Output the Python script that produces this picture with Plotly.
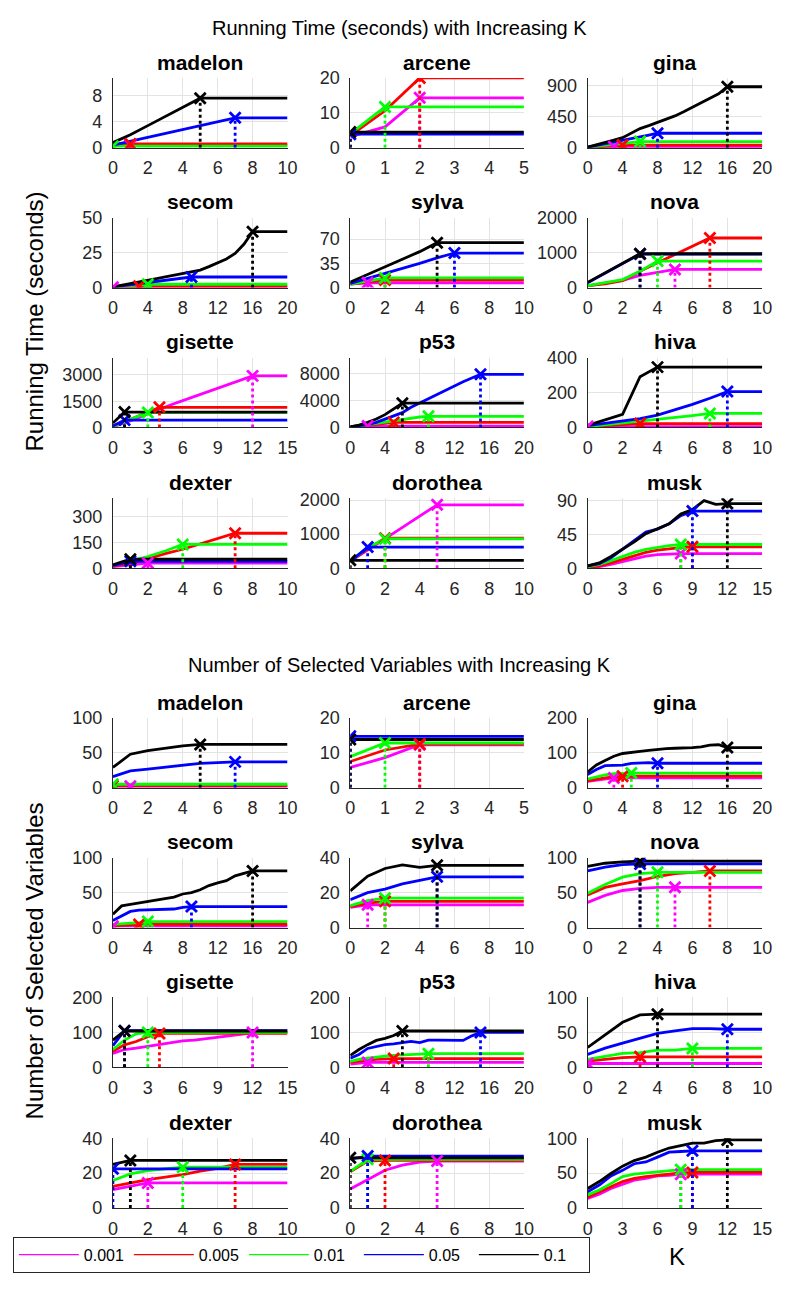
import plotly.graph_objects as go

W, H = 786, 1289

ALPHAS = ["0.001", "0.005", "0.01", "0.05", "0.1"]
COLORS = ["#ff00ff", "#ff0000", "#00ff00", "#0000ff", "#000000"]
DATASETS = ["madelon", "arcene", "gina", "secom", "sylva", "nova",
            "gisette", "p53", "hiva", "dexter", "dorothea", "musk"]
K_MAX = [10, 5, 20, 20, 10, 10, 15, 20, 10, 10, 10, 15]
K_STEP = [2, 1, 4, 4, 2, 2, 3, 4, 2, 2, 2, 3]

TIME_YMAX = [10.7, 20, 1007, 50, 101, 2000, 4000, 10400, 400, 406, 2050, 93]
TIME_YTICKS = [[0, 4, 8], [0, 10, 20], [0, 450, 900], [0, 25, 50], [0, 35, 70],
               [0, 1000, 2000], [0, 1500, 3000], [0, 4000, 8000], [0, 200, 400],
               [0, 150, 300], [0, 1000, 2000], [0, 45, 90]]
VARS_YMAX = [100, 20, 200, 100, 40, 100, 200, 200, 100, 40, 40, 100]
VARS_YTICKS = [[0, 50, 100], [0, 10, 20], [0, 100, 200], [0, 50, 100], [0, 20, 40],
               [0, 50, 100], [0, 100, 200], [0, 100, 200], [0, 50, 100],
               [0, 20, 40], [0, 20, 40], [0, 50, 100]]

# Each series: values at K = 0, 1, 2, ... up to the selected K (marked with x);
# the curve stays at the last value up to the end of the axis.
# Order of series: alpha 0.001, 0.005, 0.01, 0.05, 0.1
TIME_MADELON = [[0.4, 0.45], [0.55, 0.6], [0.25],
                [0.4, 1.0, 1.6, 2.2, 2.8, 3.4, 4.0, 4.6],
                [0.8, 2.0, 3.4, 4.8, 6.2, 7.6]]
TIME_ARCENE = [[3.2, 6.0, 14.3], [3.5, 10.6, 20.0], [4.0, 11.7], [3.9], [4.5]]
TIME_GINA = [[5, 8, 11, 15], [5, 15, 25, 33, 40], [10, 25, 40, 55, 70, 80, 90],
             [10, 33, 58, 83, 108, 133, 158, 184, 210],
             [10, 40, 73, 110, 146, 210, 277, 320, 365, 410, 460, 520, 584, 645, 705, 778, 880]]
TIME_SECOM = [[0.3], [0.4, 0.6, 0.8, 1.0], [0.5, 1.0, 1.5, 2.0, 2.4],
              [0.5, 1.3, 2.1, 2.9, 3.7, 4.5, 5.3, 6.1, 6.9, 7.6],
              [0.5, 1.8, 3.0, 4.2, 5.4, 6.5, 7.6, 8.7, 9.8, 11, 12.5, 15, 17.5, 20.5, 24.5, 31, 40]]
TIME_SYLVA = [[5, 7], [5, 8, 11], [5, 9, 14], [6, 13, 20, 27, 35, 43, 50],
              [8, 19, 30, 40, 52, 65]]
TIME_NOVA = [[50, 120, 210, 350, 440, 520], [60, 110, 200, 470, 710, 950, 1180, 1420],
             [60, 150, 230, 470, 760], [140, 410, 690, 960], [150, 420, 700, 970]]
TIME_GISETTE = [[30, 250, 500, 780, 1050, 1300, 1530, 1760, 1990, 2230, 2470, 2710, 2950],
                [50, 330, 620, 900, 1150], [60, 330, 620, 860], [80, 420], [250, 880]]
TIME_P53 = [[20, 100, 200], [30, 150, 300, 450, 600, 750],
            [50, 200, 400, 600, 800, 1000, 1200, 1400, 1550, 1650],
            [100, 200, 400, 750, 1230, 1700, 2200, 3000, 3650, 4250, 4850, 5500, 6200, 6800, 7350, 7900],
            [100, 350, 750, 1250, 1900, 2700, 3600]]
TIME_HIVA = [[5], [5, 10, 15, 22], [5, 15, 25, 35, 45, 55, 68, 80],
             [10, 22, 35, 50, 70, 100, 132, 167, 205], [12, 45, 75, 290, 345]]
TIME_DEXTER = [[10, 22, 30], [12, 30, 55, 85, 110, 140, 170, 203],
               [15, 40, 68, 100, 138], [15, 40], [20, 52]]
TIME_DOROTHEA = [[200, 530, 860, 1190, 1520, 1860], [200, 560, 880], [200, 600, 860],
                 [200, 620], [230]]
TIME_MUSK = [[1, 2, 5, 9, 13, 16, 18, 19, 19.5], [1, 3, 7, 12, 17, 21, 24, 26, 27.5, 28.5],
             [2, 5, 10, 16, 21, 25, 28, 30, 31.5], [3, 6, 14, 25, 37, 48, 52, 59, 70, 76],
             [3, 7, 15.5, 25, 35, 46, 52, 59, 72, 78, 90, 85, 86]]

VARS_MADELON = [[2, 2], [3], [5], [16, 24, 26.5, 29, 32, 35, 36, 37],
                [29, 48, 53, 57, 60, 62]]
VARS_ARCENE = [[5.8, 8.6, 12.3], [7.5, 10.8, 12.5], [8.9, 12.8], [14.7], [13.8]]
VARS_GINA = [[18, 22, 25, 28], [20, 25, 28, 31, 33], [25, 32, 37, 40, 42, 42],
             [38, 52, 63, 64, 65, 70, 72, 72, 70],
             [45, 65, 78, 90, 98, 102, 104, 107, 110, 112, 113, 113, 115, 117, 122, 123, 115]]
VARS_SECOM = [[2], [2.5, 3.5, 4, 4.5], [4.5, 5, 5.5, 7, 8.5],
              [10, 16, 23, 25, 25.5, 25.5, 26.5, 26.5, 29, 30],
              [19, 31, 33, 35, 37, 40, 42, 43.5, 48, 50, 54, 60, 64, 67, 74, 78, 81]]
VARS_SYLVA = [[11.5, 13], [12, 14, 15], [12.5, 15.4, 16.8], [16, 20, 22, 25, 27, 29],
              [21, 29.4, 33.8, 35.8, 34.4, 35.6]]
VARS_NOVA = [[36, 46, 53, 56, 57.5, 57.5], [46.5, 57.5, 62.5, 67, 73, 77, 79, 81],
             [49, 61.5, 72, 77, 79], [81, 86.5, 90, 91], [87.5, 92, 94, 95]]
VARS_GISETTE = [[40, 51, 55, 60, 66, 71, 75.5, 78, 82, 86, 89, 94, 99.5],
                [46, 64.5, 74, 87.5, 97], [51, 78, 96, 100], [62, 105], [78, 104]]
VARS_P53 = [[9, 12, 14], [14, 18.5, 21, 23, 24, 25],
            [17, 23, 26, 29.5, 32, 34, 36, 37, 38, 39],
            [26, 37, 54, 60, 65, 67, 71, 74, 71, 78, 78, 78, 78, 77, 90, 100],
            [34, 51, 65, 77, 83, 91, 104]]
VARS_HIVA = [[5.5], [9, 11.5, 14, 15], [11.5, 16, 20, 21, 24.5, 24.5, 27],
             [18.5, 27.5, 34.5, 41.5, 48.5, 52, 55.5, 55.5, 54.5], [28.5, 46, 64.5, 75, 76]]
VARS_DEXTER = [[10.6, 12.5, 14.4], [12.5, 14.4, 16.3, 17.7, 19.2, 21.2, 22.7, 25],
               [15.8, 19.6, 21.5, 22.5, 23.4], [22.5], [25, 27.3]]
VARS_DOROTHEA = [[11, 16.3, 21.7, 24.6, 26.3, 26.9], [20.8, 26.9, 27.3], [21, 27.9],
                 [28, 29.8], [28.8]]
VARS_MUSK = [[14, 20, 28, 34.5, 40, 42.5, 46, 47, 48.5],
             [15.5, 22.5, 30.5, 38, 42.5, 45, 47, 49.5, 50.5, 51],
             [19, 26, 35, 45, 48.5, 50, 51, 53, 55],
             [23.5, 33, 46, 54, 63.5, 66, 73, 80, 81, 82],
             [28, 38, 49.5, 60, 68, 73, 80, 86, 89.5, 93, 93, 96.5, 97.5]]

TIME = [TIME_MADELON, TIME_ARCENE, TIME_GINA, TIME_SECOM, TIME_SYLVA, TIME_NOVA,
        TIME_GISETTE, TIME_P53, TIME_HIVA, TIME_DEXTER, TIME_DOROTHEA, TIME_MUSK]
VARS = [VARS_MADELON, VARS_ARCENE, VARS_GINA, VARS_SECOM, VARS_SYLVA, VARS_NOVA,
        VARS_GISETTE, VARS_P53, VARS_HIVA, VARS_DEXTER, VARS_DOROTHEA, VARS_MUSK]

# ---------------- layout geometry (pixels) ----------------
COL_X = [(110, 288), (352, 529), (594, 772)]
ROW_TOPS = [[69, 211, 353, 496], [719, 861, 1003, 1146]]
ROW_H = 71

FONT = "Liberation Sans, Arial, Helvetica, sans-serif"
AX_COLOR = "#262626"
GRID = "#e3e3e3"
LW = 2.8


def px(x):
    return x / W


def py(y):
    return 1 - y / H


fig = go.Figure()
layout = {}
annotations = []

blocks = [(TIME, TIME_YMAX, TIME_YTICKS), (VARS, VARS_YMAX, VARS_YTICKS)]
ax_n = 0
for b, (DATA, YMAX, YTICKS) in enumerate(blocks):
    for d, name in enumerate(DATASETS):
        ax_n += 1
        r, c = divmod(d, 3)
        x0, x1 = COL_X[c]
        top = ROW_TOPS[b][r]
        bot = top + ROW_H
        sfx = "" if ax_n == 1 else str(ax_n)
        xa, ya = "x" + sfx, "y" + sfx
        kmax = K_MAX[d]
        layout["xaxis" + sfx] = dict(
            domain=[px(x0), px(x1)], anchor=ya, range=[0, kmax],
            tickmode="array", tickvals=list(range(0, kmax + 1, K_STEP[d])),
            showgrid=True, gridcolor=GRID, gridwidth=1, zeroline=False,
            showline=True, linecolor=AX_COLOR, linewidth=1,
            ticks="outside", ticklen=4, tickcolor="rgba(0,0,0,0)",
            tickfont=dict(family=FONT, size=18, color=AX_COLOR), fixedrange=True)
        layout["yaxis" + sfx] = dict(
            domain=[py(bot), py(top)], anchor=xa, range=[0, YMAX[d]],
            tickmode="array", tickvals=YTICKS[d],
            showgrid=True, gridcolor=GRID, gridwidth=1, zeroline=False,
            showline=True, linecolor=AX_COLOR, linewidth=1,
            ticks="outside", ticklen=6, tickcolor="rgba(0,0,0,0)",
            tickfont=dict(family=FONT, size=18, color=AX_COLOR), fixedrange=True)
        annotations.append(dict(
            text="<b>%s</b>" % name, x=px((x0 + x1) / 2), y=py(top - 16),
            xref="paper", yref="paper", xanchor="center", yanchor="middle",
            showarrow=False, font=dict(family=FONT, size=21, color="#000000")))
        series = DATA[d]
        # curves
        for a, vals in enumerate(series):
            ks = list(range(len(vals))) + [kmax]
            ys = list(vals) + [vals[-1]]
            fig.add_trace(go.Scatter(
                x=ks, y=ys, xaxis=xa, yaxis=ya, mode="lines",
                line=dict(color=COLORS[a], width=LW), showlegend=False,
                hoverinfo="skip"))
        # selected K: dotted stem + x marker
        for a, vals in enumerate(series):
            ksel = len(vals) - 1
            fig.add_trace(go.Scatter(
                x=[ksel, ksel], y=[0, vals[-1]], xaxis=xa, yaxis=ya, mode="lines",
                line=dict(color=COLORS[a], width=LW, dash="dot"),
                showlegend=False, hoverinfo="skip"))
            fig.add_trace(go.Scatter(
                x=[ksel], y=[vals[-1]], xaxis=xa, yaxis=ya, mode="markers",
                marker=dict(symbol="x-thin", size=11, color=COLORS[a],
                            line=dict(color=COLORS[a], width=LW)),
                showlegend=False, hoverinfo="skip"))

# legend entries
for a, lab in enumerate(ALPHAS):
    fig.add_trace(go.Scatter(x=[None], y=[None], mode="lines", name=lab,
                             line=dict(color=COLORS[a], width=1.2), showlegend=True))

annotations += [
    dict(text="Running Time (seconds) with Increasing K", x=px(402), y=py(18),
         xref="paper", yref="paper", showarrow=False, xanchor="center", yanchor="middle",
         font=dict(family=FONT, size=20, color="#000000")),
    dict(text="Number of Selected Variables with Increasing K", x=px(402), y=py(665),
         xref="paper", yref="paper", showarrow=False, xanchor="center", yanchor="middle",
         font=dict(family=FONT, size=20, color="#000000")),
    dict(text="Running Time (seconds)", x=px(30), y=py(316), textangle=-90,
         xref="paper", yref="paper", showarrow=False, xanchor="center", yanchor="middle",
         font=dict(family=FONT, size=24, color="#000000")),
    dict(text="Number of Selected Variables", x=px(30), y=py(966), textangle=-90,
         xref="paper", yref="paper", showarrow=False, xanchor="center", yanchor="middle",
         font=dict(family=FONT, size=24, color="#000000")),
    dict(text="K", x=px(685), y=py(1266),
         xref="paper", yref="paper", showarrow=False, xanchor="center", yanchor="middle",
         font=dict(family=FONT, size=24, color="#000000")),
]

fig.update_layout(
    width=W, height=H, margin=dict(l=0, r=0, t=0, b=0),
    paper_bgcolor="white", plot_bgcolor="white",
    annotations=annotations,
    legend=dict(orientation="h", x=px(8), y=py(1246), xanchor="left", yanchor="top",
                bordercolor=AX_COLOR, borderwidth=1, bgcolor="white",
                font=dict(family=FONT, size=16, color="#000000"),
                itemwidth=60, entrywidth=40, entrywidthmode="pixels",
                traceorder="normal"),
    **layout)

fig.write_html("out.html")
